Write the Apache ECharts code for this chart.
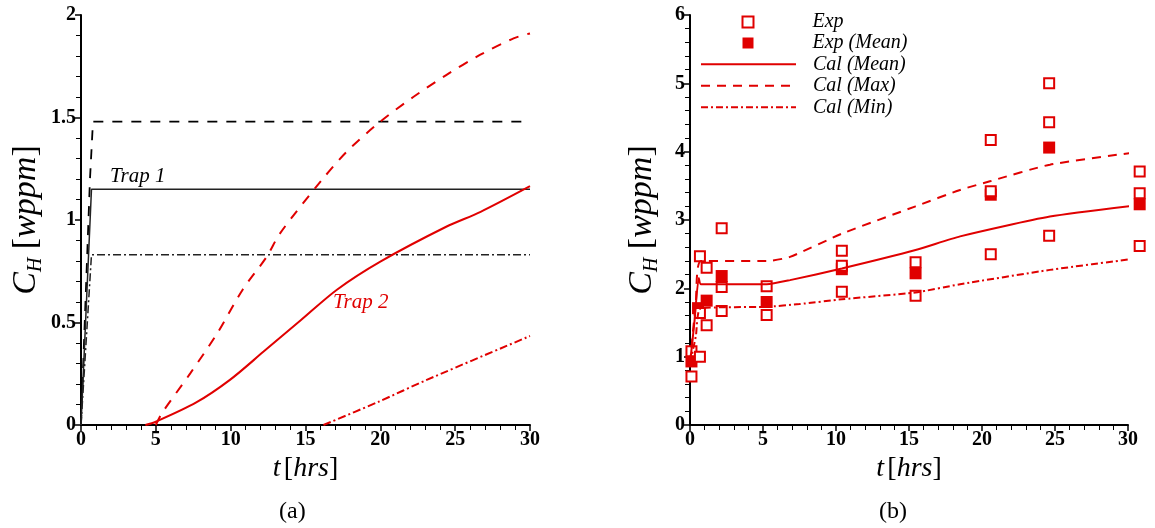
<!DOCTYPE html>
<html>
<head>
<meta charset="utf-8">
<script src="https://cdn.jsdelivr.net/npm/echarts@6/dist/echarts.min.js"></script>
<style>
  html, body { margin: 0; padding: 0; background: #fff; }
  #chart { width: 1155px; height: 528px; }
</style>
</head>
<body>
<div id="chart"></div>
<script>
// panel (a): trap 1 (black) and trap 2 (red), [t, C_H]
const trap1Max = [[0, 0], [0.6, 1.2], [0.8, 1.48], [30, 1.48]];
const trap1Mean = [[0, 0], [0.7, 1.15], [30, 1.15]];
const trap1Min = [[0, 0], [0.7, 0.83], [30, 0.83]];
const trap2Mean = [[4.3, 0], [5, 0.016], [7.7, 0.11], [9.95, 0.22], [12.2, 0.358], [14.7, 0.512], [17.1, 0.66], [20, 0.797], [24.4, 0.967], [26.7, 1.04], [30, 1.165]];
const trap2Max = [[5, 0], [5.4, 0.057], [7.3, 0.252], [9.1, 0.447], [10.8, 0.66], [12.4, 0.82], [13.3, 0.935], [16, 1.187], [17.75, 1.333], [20, 1.48], [22.2, 1.6], [24.4, 1.707], [26.65, 1.805], [28.9, 1.886], [30, 1.91]];
const trap2Min = [[16.2, 0], [19.9, 0.114], [23.1, 0.22], [30, 0.434]];

// panel (b): experiment vs calculation
const expPoints = [[0.1, 0.71], [0.1, 1.08], [0.68, 1.0], [0.68, 2.47], [0.68, 1.64], [1.14, 2.3], [1.14, 1.46],
  [2.17, 2.88], [2.17, 2.02], [2.17, 1.67], [5.25, 2.03], [5.25, 1.61], [10.4, 2.55], [10.4, 2.33], [10.4, 1.95],
  [15.45, 2.38], [15.45, 1.89], [20.6, 4.17], [20.6, 3.42], [20.6, 2.5], [24.6, 5.0], [24.6, 4.43], [24.6, 2.77],
  [30.8, 3.71], [30.8, 3.39], [30.8, 2.62]];
const expMean = [[0.1, 0.93], [0.55, 1.71], [1.14, 1.82], [2.17, 2.18], [5.25, 1.8], [10.4, 2.28], [15.45, 2.22], [20.6, 3.37], [24.6, 4.06], [30.8, 3.23]];
const calMean = [[0, 0.9], [0.3, 1.5], [0.6, 2.15], [0.75, 2.06], [5.25, 2.06], [6.85, 2.12], [10.4, 2.29], [15.45, 2.56], [18.5, 2.76], [24.65, 3.05], [30.8, 3.22]];
const calMax = [[0, 0.9], [0.4, 1.8], [0.75, 2.4], [5.25, 2.4], [6.85, 2.46], [10.4, 2.8], [15.45, 3.2], [18.5, 3.44], [20.6, 3.57], [24.65, 3.81], [30.5, 3.99]];
const calMin = [[0, 0.9], [0.4, 1.3], [0.75, 1.71], [5.25, 1.73], [7.5, 1.77], [10.4, 1.84], [15.45, 1.94], [18.5, 2.06], [24.65, 2.27], [30.7, 2.44]];

const xTicksA = { min: 0, max: 30, interval: 5 };
const yTicksA = { min: 0, max: 2, interval: 0.5 };
const yTicksB = { min: 0, max: 6, interval: 1 };

const RED = '#e00000';
const SERIF = '"Liberation Serif", "DejaVu Serif", serif';

let myChart = echarts.init(document.getElementById('chart'));

function axisBase(t) {
  return {
    type: 'value',
    min: t.min, max: t.max, interval: t.interval,
    axisLine: { show: true, onZero: false, lineStyle: { color: '#000', width: 2 } },
    axisTick: { show: true, length: 6, lineStyle: { color: '#000', width: 1.5 } },
    minorTick: { show: true, splitNumber: 5, length: 5, lineStyle: { color: '#000', width: 1 } },
    splitLine: { show: false },
    axisLabel: { color: '#000', fontFamily: SERIF, fontWeight: 'bold', fontSize: 20, margin: 5 }
  };
}
function xName() {
  return {
    name: '{i|t} {r|[}{i|hrs}{r|]}',
    nameLocation: 'middle', nameGap: 30,
    nameTextStyle: { color: '#000', rich: {
      i: { fontFamily: SERIF, fontStyle: 'italic', fontSize: 28, color: '#000' },
      r: { fontFamily: SERIF, fontSize: 28, color: '#000' } } }
  };
}
function yName(gap) {
  return {
    name: '{c|C}{h|H}{r| [}{i|wppm}{r|]}',
    nameLocation: 'middle', nameGap: gap, nameRotate: 90,
    nameTextStyle: { color: '#000', rich: {
      c: { fontFamily: SERIF, fontStyle: 'italic', fontSize: 34, lineHeight: 40, color: '#000' },
      h: { fontFamily: SERIF, fontStyle: 'italic', fontSize: 20, lineHeight: 20, verticalAlign: 'bottom', color: '#000' },
      i: { fontFamily: SERIF, fontStyle: 'italic', fontSize: 34, lineHeight: 40, color: '#000' },
      r: { fontFamily: SERIF, fontSize: 34, lineHeight: 40, color: '#000' } } }
  };
}

function line(name, data, xi, color, width, type, smooth) {
  return {
    name: name, type: 'line', xAxisIndex: xi, yAxisIndex: xi,
    data: data, symbol: 'none', smooth: smooth || false, clip: false,
    lineStyle: { color: color, width: width, type: type },
    itemStyle: { color: color }
  };
}

const DASH_A = [10, 9];
const DASHDOT_A = [8, 3, 2, 3];
const DASH_R = [9, 7];
const DASHDOT_R = [7, 3, 2, 3];

myChart.setOption({
  animation: false,
  backgroundColor: '#fff',
  grid: [
    { left: 81, top: 15, width: 449, height: 410 },
    { left: 690, top: 15, width: 438, height: 410 }
  ],
  xAxis: [
    Object.assign(axisBase(xTicksA), xName(), { gridIndex: 0 }),
    Object.assign(axisBase(xTicksA), xName(), { gridIndex: 1 })
  ],
  yAxis: [
    Object.assign(axisBase(yTicksA), yName(35), { gridIndex: 0 }),
    Object.assign(axisBase(yTicksB), yName(28), { gridIndex: 1 })
  ],
  legend: [
    {
      data: ['Exp', 'Exp (Mean)'], orient: 'vertical', left: 741.5, top: 11.5,
      padding: 0, itemGap: 0, itemWidth: 11, itemHeight: 11, selectedMode: false,
      textStyle: { fontFamily: SERIF, fontStyle: 'italic', fontSize: 20, lineHeight: 21, color: '#000', padding: [0, 0, 0, 54] }
    },
    {
      data: ['Cal (Mean)', 'Cal (Max)', 'Cal (Min)'], orient: 'vertical', left: 700, top: 53.5,
      padding: 0, itemGap: 0, itemWidth: 95, itemHeight: 14, selectedMode: false,
      itemStyle: { opacity: 0 },
      textStyle: { fontFamily: SERIF, fontStyle: 'italic', fontSize: 20, lineHeight: 21.5, color: '#000', padding: [0, 0, 0, 12] }
    }
  ],
  graphic: [
    { type: 'text', left: 110, top: 166, style: { text: 'Trap 1', font: 'italic 21px ' + SERIF, fill: '#000' } },
    { type: 'text', left: 333, top: 292, style: { text: 'Trap 2', font: 'italic 21px ' + SERIF, fill: RED } },
    { type: 'text', left: 279, top: 500, style: { text: '(a)', font: '24px ' + SERIF, fill: '#000' } },
    { type: 'text', left: 879, top: 500, style: { text: '(b)', font: '24px ' + SERIF, fill: '#000' } }
  ],
  series: [
    line('Trap 1 (Max)', trap1Max, 0, '#000', 1.8, DASH_A),
    line('Trap 1 (Mean)', trap1Mean, 0, '#222', 1.5, 'solid'),
    line('Trap 1 (Min)', trap1Min, 0, '#222', 1.5, DASHDOT_A),
    line('Trap 2 (Max)', trap2Max, 0, RED, 2, DASH_A, 0.3),
    line('Trap 2 (Mean)', trap2Mean, 0, RED, 2, 'solid', 0.3),
    line('Trap 2 (Min)', trap2Min, 0, RED, 2, DASHDOT_A, 0.3),

    line('Cal (Mean)', calMean, 1, RED, 2, 'solid', 0.2),
    line('Cal (Max)', calMax, 1, RED, 2, DASH_R, 0.2),
    line('Cal (Min)', calMin, 1, RED, 2, DASHDOT_R, 0.2),
    {
      name: 'Exp (Mean)', type: 'scatter', xAxisIndex: 1, yAxisIndex: 1, data: expMean,
      symbol: 'rect', symbolSize: 12, clip: false,
      itemStyle: { color: RED, opacity: 1 }
    },
    {
      name: 'Exp', type: 'scatter', xAxisIndex: 1, yAxisIndex: 1, data: expPoints,
      symbol: 'rect', symbolSize: 10, clip: false,
      itemStyle: { color: '#fff', borderColor: RED, borderWidth: 2, opacity: 1 }
    }
  ]
});
</script>
</body>
</html>
